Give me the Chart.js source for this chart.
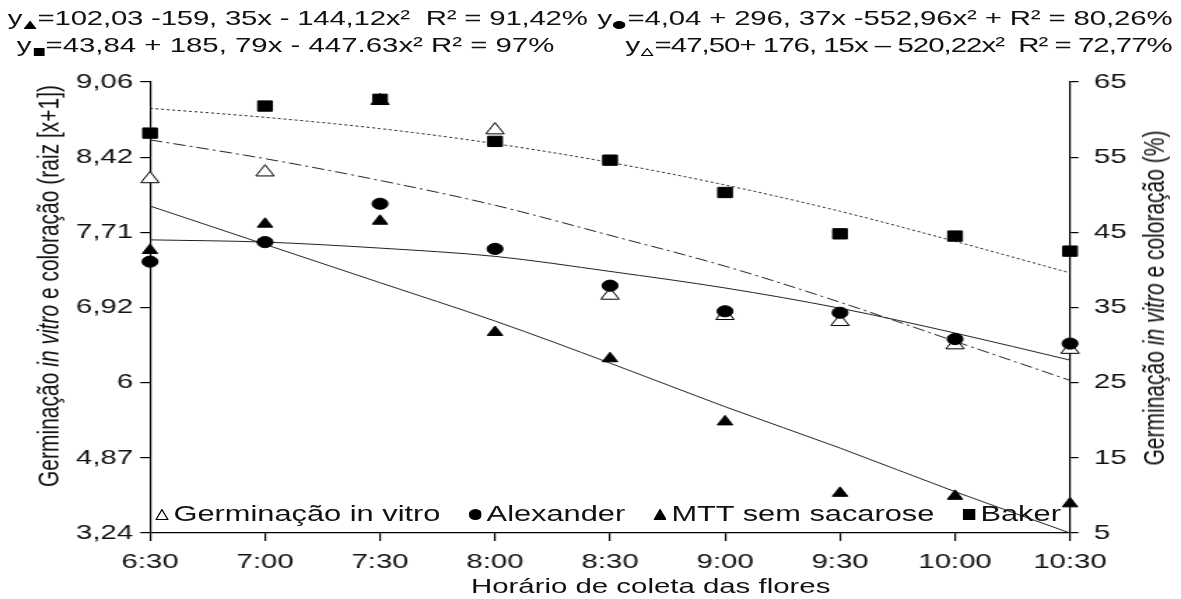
<!DOCTYPE html>
<html>
<head>
<meta charset="utf-8">
<script src="https://cdn.jsdelivr.net/npm/chart.js@4.4.1/dist/chart.umd.min.js"></script>
<style>
  html, body { margin: 0; padding: 0; background: #fff; overflow: hidden; }
  /* the original figure is stretched sideways, so the whole stage is too */
  #stage { position: absolute; left: 0; top: 0; width: 844px; height: 599px;
           transform-origin: 0 0; transform: scaleX(1.39929);
           font-family: "Liberation Sans", Arial, sans-serif; color: #111; }
  #stage canvas { position: absolute; left: 0; top: 0; }
  .txt { position: absolute; white-space: pre; font-size: 21px; line-height: 21px; }
  .sub { display: inline-block; vertical-align: -4px; margin: 0 1px; }
  .rot { transform: translate(-50%, -50%) rotate(-90deg); }
  #legend { position: absolute; left: 111px; top: 503px; display: flex; align-items: center;
            font-size: 22px; line-height: 22px; white-space: pre; }
  #legend .item { display: flex; align-items: center; margin-right: 20px; }
  #legend svg { margin-right: 3.5px; }
</style>
</head>
<body>
<div id="stage">
  <canvas id="grafico" width="844" height="599"></canvas>
  <div class="txt" style="left:5.5px; top:7px; letter-spacing:-0.15px;">y<span class="sub" data-s="triangle"></span>=102,03 -159, 35x - 144,12x²  R² = 91,42%</div>
  <div class="txt" style="left:427px; top:7px; letter-spacing:-0.1px;">y<span class="sub" data-s="circle"></span>=4,04 + 296, 37x -552,96x² + R² = 80,26%</div>
  <div class="txt" style="left:12px; top:34px;">y<span class="sub" data-s="rect"></span>=43,84 + 185, 79x - 447.63x² R² = 97%</div>
  <div class="txt" style="left:447px; top:34px; letter-spacing:-0.7px;">y<span class="sub" data-s="open"></span>=47,50+ 176, 15x – 520,22x²  R² = 72,77%</div>
  <div class="txt rot" style="left:34px; top:286px;">Germinação <i>in vitro</i> e coloração (raiz [x+1])</div>
  <div class="txt rot" style="left:824px; top:298px;">Germinação <i>in vitro</i> e coloração (%)</div>
  <div class="txt" style="left:465px; top:575px; transform: translateX(-50%);">Horário de coleta das flores</div>
  <div id="legend"></div>
</div>
<script>
// horários e valores (eixo da direita, %)
var horarios = ['6:30', '7:00', '7:30', '8:00', '8:30', '9:00', '9:30', '10:00', '10:30'];
var germinacao = [52.1, 53.0, 62.5, 58.6, 36.6, 33.9, 33.1, 30.0, 29.4];
var alexander = [41.1, 43.7, 48.8, 42.8, 37.9, 34.5, 34.3, 30.8, 30.2];
var mtt = [42.6, 46.1, 46.5, 31.7, 28.2, 19.8, 10.3, 9.9, 8.9];
var baker = [58.2, 61.8, 62.7, 57.1, 54.6, 50.3, 44.8, 44.5, 42.5];

var ajusteGerminacao = [57.3, 54.8, 51.9, 48.6, 44.6, 40.5, 35.7, 30.5, 25.3];
var ajusteAlexander = [44.0, 43.7, 42.9, 41.8, 39.8, 37.6, 34.9, 31.6, 28.0];
var ajusteMtt = [48.5, 43.4, 38.3, 33.2, 27.6, 21.8, 16.3, 10.5, 5.0];
var ajusteBaker = [61.5, 60.3, 58.8, 56.8, 54.3, 51.3, 47.8, 43.8, 39.6];

var ticksEsquerda = ['3,24', '4,87', '6', '6,92', '7,71', '8,42', '9,06'];
var ticksDireita = ['5', '15', '25', '35', '45', '55', '65'];
var nomes = ['Germinação in vitro', 'Alexander', 'MTT sem sacarose', 'Baker'];

var simbolo = function(tipo, w, h) {
  var forma;
  if (tipo === 'circle') {
    forma = '<ellipse cx="' + w / 2 + '" cy="' + h / 2 + '" rx="' + w / 2 + '" ry="' + h / 2 + '" fill="#000"/>';
  } else if (tipo === 'rect') {
    forma = '<rect x="0" y="0" width="' + w + '" height="' + h + '" fill="#000"/>';
  } else {
    var fill = tipo === 'open' ? '#fff' : '#000';
    forma = '<polygon points="' + w / 2 + ',0.6 ' + (w - 0.6) + ',' + (h - 0.6) + ' 0.6,' + (h - 0.6) + '" fill="' + fill + '" stroke="#000" stroke-width="1"/>';
  }
  return '<svg width="' + w + '" height="' + h + '">' + forma + '</svg>';
};

document.querySelectorAll('.sub').forEach(function(el) {
  var s = el.getAttribute('data-s');
  el.innerHTML = s === 'rect' ? simbolo(s, 8, 8) : simbolo(s, 9, 8);
});

var tiposLegenda = ['open', 'circle', 'triangle', 'rect'];
var legenda = document.getElementById('legend');
nomes.forEach(function(nome, i) {
  var item = document.createElement('div');
  item.className = 'item';
  item.innerHTML = simbolo(tiposLegenda[i], 9.5, 11) + '<span>' + nome + '</span>';
  legenda.appendChild(item);
});

var pontos = function(label, data, estilo, fundo, raio, ordem) {
  return {
    label: label, data: data, showLine: false, yAxisID: 'y',
    pointStyle: estilo, pointRadius: raio, pointHoverRadius: raio,
    pointBackgroundColor: fundo, pointBorderColor: '#000', pointBorderWidth: 1,
    order: ordem
  };
};

var curva = function(data, traco) {
  return {
    data: data, yAxisID: 'y', borderColor: '#222', borderWidth: 1, borderDash: traco,
    pointRadius: 0, cubicInterpolationMode: 'monotone', fill: false, order: 10
  };
};

var eixoComum = {
  min: 5, max: 65,
  border: { color: '#000', width: 1.2 },
  grid: { drawOnChartArea: false, color: '#000', lineWidth: 1.2 }
};

new Chart(document.getElementById('grafico'), {
  type: 'line',
  data: {
    labels: horarios,
    datasets: [
      pontos(nomes[3], baker, 'rect', '#000', 7.3, 1),
      pontos(nomes[1], alexander, 'circle', '#000', 5.6, 2),
      pontos(nomes[2], mtt, 'triangle', '#000', 6.3, 3),
      pontos(nomes[0], germinacao, 'triangle', '#fff', 7.5, 4),
      curva(ajusteBaker, [2, 2]),
      curva(ajusteGerminacao, [9, 3, 2, 3]),
      curva(ajusteAlexander, []),
      curva(ajusteMtt, [])
    ]
  },
  options: {
    responsive: false,
    animation: false,
    layout: { padding: { top: 82, left: 0, right: 0, bottom: 0 } },
    font: { family: '"Liberation Sans", Arial, sans-serif' },
    plugins: { legend: { display: false }, tooltip: { enabled: false } },
    scales: {
      x: {
        type: 'category', offset: false,
        border: { color: '#000', width: 1.2 },
        grid: { drawOnChartArea: false, color: '#000', lineWidth: 1.2, tickLength: 8 },
        ticks: { color: '#111', padding: 9, maxRotation: 0, autoSkip: false,
                 font: { size: 21, family: '"Liberation Sans", Arial, sans-serif' } },
        afterFit: function(s) { s.height = 66; }
      },
      y: Object.assign({}, eixoComum, {
        position: 'left',
        grid: Object.assign({}, eixoComum.grid, { tickLength: 7 }),
        ticks: { stepSize: 10, color: '#111', padding: 5,
                 font: { size: 21, family: '"Liberation Sans", Arial, sans-serif' },
                 callback: function(v, i) { return ticksEsquerda[i]; } },
        afterFit: function(s) { s.width = 107.2; }
      }),
      y2: Object.assign({}, eixoComum, {
        position: 'right',
        grid: Object.assign({}, eixoComum.grid, { tickLength: 6 }),
        ticks: { stepSize: 10, color: '#111', padding: 11,
                 font: { size: 21, family: '"Liberation Sans", Arial, sans-serif' },
                 callback: function(v, i) { return ticksDireita[i]; } },
        afterFit: function(s) { s.width = 844 - 764.7; }
      })
    }
  }
});
</script>
</body>
</html>
